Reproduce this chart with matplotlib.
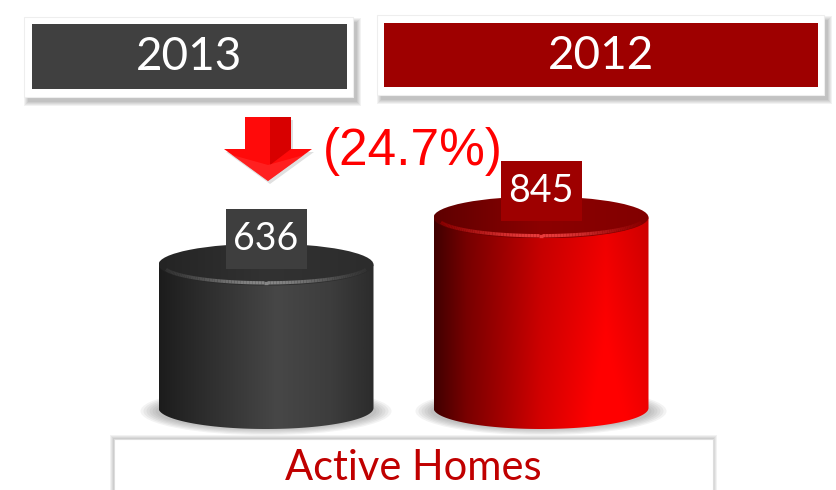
import numpy as np
import matplotlib.pyplot as plt
import matplotlib.transforms as mtransforms
from matplotlib.collections import LineCollection
from matplotlib.colors import LinearSegmentedColormap, to_rgb
from matplotlib.patches import Rectangle, Ellipse, Polygon, PathPatch
from matplotlib.path import Path

# chart data
years = ["2013", "2012"]
active_homes = [636, 845]
change_label = "(24.7%)"
category = "Active Homes"
header_colors = ["#404040", "#9e0000"]
label_colors = ["#3e3e3e", "#9e0000"]

W, H = 836, 490
BASE_PX = 408          # pixel row of the zero line
PX_PER_UNIT = 0.2255   # vertical pixels per home
X0_PX = 266            # pixel column of first cylinder
STEP_PX = 275          # pixel distance between cylinders
CYL_W = 215 / STEP_PX
RY = 21 / PX_PER_UNIT

fig = plt.figure(figsize=(W / 100, H / 100), dpi=100)
ax = fig.add_axes([0, 0, 1, 1])
ax.set_axis_off()
# pixel coords with origin at top-left, for the slide decorations
pix = mtransforms.Affine2D().scale(1 / W, -1 / H).translate(0, 1) + fig.transFigure

body_grads = [
    ([0, 0.12, 0.55, 0.8, 1], ["#1c1c1c", "#262626", "#474747", "#3d3d3d", "#2c2c2c"]),
    ([0, 0.15, 0.5, 0.8, 1], ["#400000", "#760000", "#c40000", "#ec0000", "#cc0000"]),
]
top_grads = [
    ([0, 0.5, 1], ["#242424", "#323232", "#2c2c2c"]),
    ([0, 0.5, 1], ["#5e0000", "#8c0000", "#820000"]),
]
rim_colors = ["#9a9a9a", "#ff4a4a"]


def gradient(stops, colors, brighten=0.0, nx=256, ny=64):
    cmap = LinearSegmentedColormap.from_list("g", list(zip(stops, colors)))
    row = cmap(np.linspace(0, 1, nx))[:, :3]
    img = np.repeat(row[None, :, :], ny, axis=0)
    if brighten:
        yy = np.linspace(1, 0, ny)[:, None]
        xx = np.linspace(0, 1, nx)[None, :]
        img = img * (1 + brighten * yy * xx)[:, :, None]
    return np.clip(img, 0, 1)


def draw_shadow_box(x0, y0, x1, y1, dx=4, dy=5, z=1):
    for e in range(5):
        ax.add_patch(Rectangle((x0 + dx - e, y0 + dy - e), x1 - x0 + 2 * e, y1 - y0 + 2 * e,
                               transform=pix, facecolor="black", alpha=0.05,
                               edgecolor="none", zorder=z))


# header boxes
headers = [(24, 17, 353, 97, 32, 24, 347, 89), (377, 15, 824, 95, 384, 23, 818, 87)]
for (ox0, oy0, ox1, oy1, ix0, iy0, ix1, iy1), year, col in zip(headers, years, header_colors):
    draw_shadow_box(ox0, oy0, ox1, oy1)
    ax.add_patch(Rectangle((ox0, oy0), ox1 - ox0, oy1 - oy0, transform=pix,
                           facecolor="white", edgecolor="#eeeeee", lw=0.8, zorder=2))
    ax.add_patch(Rectangle((ix0, iy0), ix1 - ix0, iy1 - iy0, transform=pix,
                           facecolor=col, edgecolor="none", zorder=3))
    ax.text((ix0 + ix1) / 2, (iy0 + iy1) / 2 + 1, year, transform=pix, ha="center",
            va="center", color="white", fontsize=33, family=["Lato", "DejaVu Sans"], zorder=4)

# category box at the bottom
draw_shadow_box(114, 439, 713, 520, dx=0, dy=0)
ax.add_patch(Rectangle((114, 439), 599, 80, transform=pix, facecolor="white",
                       edgecolor="#dddddd", lw=0.8, zorder=2))
ax.text(413, 468, category, transform=pix, ha="center", va="center", color="#c00000",
        fontsize=30, family=["Lato", "DejaVu Sans"], zorder=4)

# down arrow and change label
arrow = [(245, 117), (291, 117), (291, 149), (312, 149), (268, 181), (224, 149), (245, 149)]
ax.add_patch(Polygon([(x + 2, y + 3) for x, y in arrow], closed=True, transform=pix,
                     facecolor="black", alpha=0.12, edgecolor="none", zorder=3))
ax.add_patch(Polygon(arrow, closed=True, transform=pix, facecolor="#ff0a0a",
                     edgecolor="none", zorder=4))
ax.add_patch(Polygon([(270, 117), (291, 117), (291, 149), (270, 165)], closed=True,
                     transform=pix, facecolor="#d80000", edgecolor="none", zorder=4))
ax.add_patch(Polygon([(232, 155), (268, 165), (304, 155), (268, 181)], closed=True,
                     transform=pix, facecolor="#ff3030", edgecolor="none", alpha=0.6, zorder=4))
ax.text(413, 151, change_label, transform=pix, ha="center", va="center", color="#ff0000",
        fontsize=37, family=["Liberation Sans", "DejaVu Sans"], zorder=12)

# cylinders
for i, value in enumerate(active_homes):
    xc = i
    w = CYL_W
    # soft shadow on the floor
    for e in range(1, 7):
        ax.add_patch(Ellipse((xc, -RY * 0.15), w + 2 * e * 3 / STEP_PX,
                             2 * RY * 0.8 + 2 * e * 1.2 / PX_PER_UNIT,
                             facecolor="#555555", alpha=0.07, edgecolor="none", zorder=5))
    t = np.linspace(np.pi, 2 * np.pi, 80)
    verts = np.column_stack([xc + w / 2 * np.cos(t), RY * np.sin(t)])
    verts = np.vstack([verts, [[xc + w / 2, value], [xc - w / 2, value], verts[0]]])
    body_clip = PathPatch(Path(verts, closed=True), transform=ax.transData)
    stops, cols = body_grads[i]
    im = ax.imshow(gradient(stops, cols, brighten=0.18 if i == 1 else 0.0),
                   extent=(xc - w / 2, xc + w / 2, -RY, value), origin="lower",
                   aspect="auto", interpolation="bilinear", zorder=6)
    im.set_clip_path(body_clip)

    # top face
    top = Ellipse((xc, value), w, 2 * RY, transform=ax.transData)
    ts, tc = top_grads[i]
    im_top = ax.imshow(gradient(ts, tc), extent=(xc - w / 2, xc + w / 2, value - RY, value + RY),
                       origin="lower", aspect="auto", interpolation="bilinear", zorder=7)
    im_top.set_clip_path(top)
    # soft highlight along the front edge of the top (opaque blended colours)
    tt = np.linspace(np.pi * 1.08, np.pi * 1.92, 90)
    px_ = xc + w * 0.48 * np.cos(tt)
    py_ = value - RY * 0.02 + RY * 0.85 * np.sin(tt)
    pts = np.column_stack([px_, py_]).reshape(-1, 1, 2)
    segs = np.concatenate([pts[:-1], pts[1:]], axis=1)
    mid = 0.5 * (tt[:-1] + tt[1:])
    alphas = 0.8 * np.exp(-((mid - 1.5 * np.pi) / (0.22 * np.pi)) ** 2)
    rim = np.array(to_rgb(rim_colors[i]))
    face = np.array(to_rgb(tc[1]))
    ax.add_collection(LineCollection(segs, colors=[tuple(face + a * (rim - face)) for a in alphas],
                                     linewidths=2.4, capstyle="butt", zorder=9))

    # value label
    lw_ = 81 / STEP_PX
    lh = 60 / PX_PER_UNIT
    cy = value + 26 / PX_PER_UNIT
    ax.add_patch(Rectangle((xc - lw_ / 2, cy - lh / 2), lw_, lh, facecolor=label_colors[i],
                           edgecolor="none", zorder=10))
    ax.text(xc, cy, str(value), ha="center", va="center", color="white", fontsize=27,
            family=["Lato", "DejaVu Sans"], zorder=11)

ax.set_xlim(-X0_PX / STEP_PX, (W - X0_PX) / STEP_PX)
ax.set_ylim(-(H - BASE_PX) / PX_PER_UNIT, BASE_PX / PX_PER_UNIT)

fig.savefig("out.png", dpi=100)
